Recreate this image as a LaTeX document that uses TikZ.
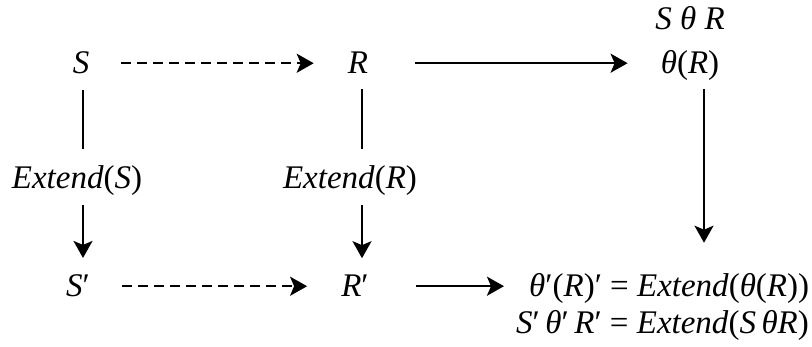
\documentclass[tikz,border=0pt]{standalone}
\usepackage{fontspec}
\setmainfont{Liberation Serif}
\usetikzlibrary{arrows.meta}
\newcommand{\iv}[1]{\textit{#1}}
\begin{document}
\begin{tikzpicture}[x=1pt,y=-1pt,
  lbl/.style={anchor=base,font=\fontsize{33}{40}\selectfont,inner sep=3pt},
  plain/.style={line width=2.3pt},
  conn/.style={plain,-{Stealth[length=17pt,width=19pt,inset=4pt]}},
  dashconn/.style={conn,dash pattern=on 10pt off 6pt}]
  \useasboundingbox (0,0) rectangle (812,347);
  % relations and their extensions
  \node[lbl] (S) at (81,74) {\iv{S}};
  \node[lbl] (R) at (358,74) {\iv{R}};
  \node[lbl] (thR) at (690,74) {\iv{θ}(\iv{R})};
  \node[lbl] (SthR) at (690,30) {\iv{S} \iv{θ} \iv{R}};
  \node[lbl] (extS) at (77,189) {\iv{Extend}(\iv{S})};
  \node[lbl] (extR) at (350,189) {\iv{Extend}(\iv{R})};
  \node[lbl] (Sp) at (78,297) {\iv{S}′};
  \node[lbl] (Rp) at (355,297) {\iv{R}′};
  \node[lbl,anchor=base west] (thp) at (526,297)
    {\iv{θ}′(\iv{R})′ = \iv{Extend}(\iv{θ}(\iv{R}))};
  \node[lbl,anchor=base west] (join) at (513,334)
    {\iv{S}′\,\iv{θ}′\,\iv{R}′ = \iv{Extend}(\iv{S}\,\iv{θ}\iv{R})};

  % vertical connectors
  \draw[plain,shorten <=12pt,shorten >=14pt] ([xshift=2pt]S.south) -- ([xshift=2pt]S.south |- extS.north);
  \draw[conn,shorten <=6pt,shorten >=14pt] ([xshift=2pt]S.south |- extS.south) -- ([xshift=2pt]S.south |- Sp.north);
  \draw[plain,shorten <=12pt,shorten >=14pt] ([xshift=4pt]R.south) -- ([xshift=4pt]R.south |- extR.north);
  \draw[conn,shorten <=6pt,shorten >=14pt] ([xshift=4pt]R.south |- extR.south) -- ([xshift=4pt]R.south |- Rp.north);
  \draw[conn,shorten <=5pt,shorten >=28pt] ([xshift=14pt]thR.south) -- ([xshift=14pt]thR.south |- thp.north);

  % horizontal connectors
  \draw[dashconn,shorten <=29pt,shorten >=31pt] (S.east) -- (S.east -| R.west);
  \draw[dashconn,shorten <=29pt,shorten >=31pt] (Sp.east) -- (Sp.east -| Rp.west);
  \draw[conn,shorten <=44pt,shorten >=30pt] (R.east) -- (R.east -| thR.west);
  \draw[conn,shorten <=44pt,shorten >=22pt] (Rp.east) -- (Rp.east -| thp.west);
\end{tikzpicture}
\end{document}
